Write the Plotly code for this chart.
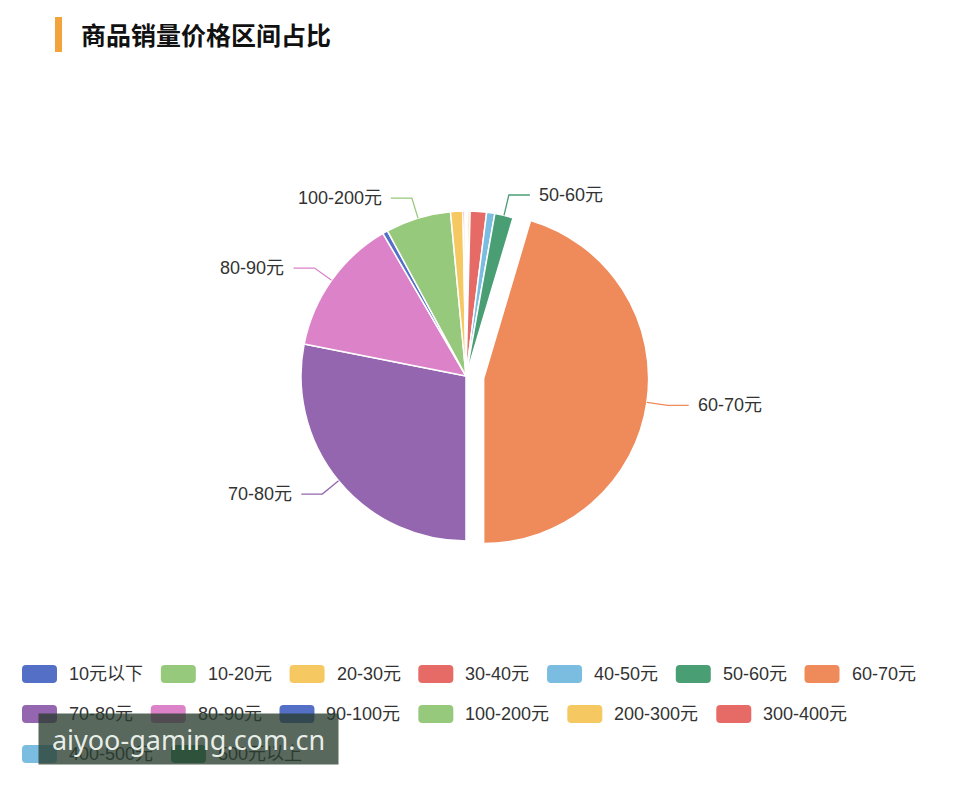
import math
import plotly.graph_objects as go

# ---------------- data ----------------
title_text = "商品销量价格区间占比"
categories = ["10元以下", "10-20元", "20-30元", "30-40元", "40-50元", "50-60元", "60-70元",
              "70-80元", "80-90元", "90-100元", "100-200元", "200-300元", "300-400元",
              "400-500元", "500元以上"]
shares = [0.1, 0.1, 0.2, 1.6, 0.8, 1.8, 45.4, 28.1, 13.5, 0.5, 6.4, 1.2, 0.2, 0.05, 0.05]
colors = ["#5470c6", "#97c97c", "#f5c862", "#e66a66", "#7bbde0", "#4a9e74", "#ef8a5b",
          "#9566b0", "#dc82c8", "#5470c6", "#97c97c", "#f5c862", "#e66a66", "#7bbde0", "#3f9a6c"]
labeled = ["50-60元", "60-70元", "70-80元", "80-90元", "100-200元"]
selected = "60-70元"
watermark = "aiyoo-gaming.com.cn"

# ---------------- layout constants (pixels of the 974x800 window) ----------------
VW, VH = 974, 800
OFF = 8                      # default page body margin
W, H = VW - 2 * OFF, VH - 2 * OFF
CX, CY, R = 466, 376, 165
PULL = 0.108
FONT = "Liberation Sans, Noto Sans CJK SC, sans-serif"
TXT = "#333333"


def px(x):
    return (x - OFF) / W


def py(y):
    return 1 - (y - OFF) / H


pulls = [PULL if c == selected else 0 for c in categories]
rmax = R * (1 + PULL)

fig = go.Figure()
fig.add_trace(go.Pie(
    labels=categories, values=shares, sort=False, direction="clockwise", rotation=0,
    pull=pulls, textinfo="none", hoverinfo="label+percent",
    marker=dict(colors=colors, line=dict(color="white", width=1.5)),
    domain=dict(x=[px(CX - rmax), px(CX + rmax)], y=[py(CY + rmax), py(CY - rmax)]),
    showlegend=False,
))

shapes = []
annotations = []

# title
shapes.append(dict(type="rect", xref="paper", yref="paper", x0=px(55), x1=px(62), y0=py(52), y1=py(17),
                   fillcolor="#f3a33c", line=dict(width=0)))
annotations.append(dict(text="<b>" + title_text + "</b>", x=px(79), y=py(34), xref="paper", yref="paper",
                        xanchor="left", yanchor="middle", showarrow=False,
                        font=dict(size=25, color="#111111", family="Noto Sans CJK SC, sans-serif")))

# pie labels with leader lines
total = sum(shares)
cum = 0.0
L1, L2, GAP = 21, 21, 7
for cat, val, col, pl in zip(categories, shares, colors, pulls):
    a0 = cum / total * 2 * math.pi
    cum += val
    a1 = cum / total * 2 * math.pi
    if cat not in labeled:
        continue
    mid = (a0 + a1) / 2
    dx, dy = math.sin(mid), -math.cos(mid)
    ox, oy = CX + pl * R * dx, CY + pl * R * dy
    ex, ey = ox + R * dx, oy + R * dy
    bx, by = ex + L1 * dx, ey + L1 * dy
    side = 1 if dx >= 0 else -1
    hx = bx + side * L2
    path = "M {},{} L {},{} L {},{}".format(px(ex), py(ey), px(bx), py(by), px(hx), py(by))
    shapes.append(dict(type="path", xref="paper", yref="paper", path=path,
                       line=dict(color=col, width=1.3)))
    annotations.append(dict(text=cat, x=px(hx + side * GAP), y=py(by), xref="paper", yref="paper",
                            xanchor="left" if side > 0 else "right", yanchor="middle", showarrow=False,
                            font=dict(size=18, color=TXT, family=FONT)))


# legend (ECharts-like, rounded icons)
def text_w(s, em=18.2):
    w = 0
    for ch in s:
        if ch.isdigit():
            w += 0.556
        elif ch == "-":
            w += 0.333
        elif ord(ch) > 0x2E80:
            w += 1.0
        else:
            w += 0.5
    return w * em


IW, IH, IR, TG, IG = 35, 18, 4, 10, 19
LX0, LY0, ROWH = 22, 674, 40
x, y = LX0, LY0
for cat, col in zip(categories, colors):
    tw = text_w(cat)
    if x + IW + TG + tw > VW - LX0 and x > LX0:
        x = LX0
        y += ROWH
    x0, x1, y0, y1 = x, x + IW, y - IH / 2, y + IH / 2
    path = ("M {a},{b} L {c},{b} Q {x1},{b} {x1},{d} L {x1},{e} Q {x1},{y1} {c},{y1} "
            "L {a},{y1} Q {x0},{y1} {x0},{e} L {x0},{d} Q {x0},{b} {a},{b} Z").format(
        a=px(x0 + IR), b=py(y0), c=px(x1 - IR), d=py(y0 + IR), e=py(y1 - IR),
        x0=px(x0), x1=px(x1), y1=py(y1))
    shapes.append(dict(type="path", xref="paper", yref="paper", path=path, fillcolor=col,
                       line=dict(width=0)))
    annotations.append(dict(text=cat, x=px(x1 + TG), y=py(y), xref="paper", yref="paper",
                            xanchor="left", yanchor="middle", showarrow=False,
                            font=dict(size=18, color=TXT, family=FONT)))
    x = x1 + TG + tw + IG

# watermark overlay
annotations.append(dict(text=watermark, x=px(38), y=py(713), xref="paper", yref="paper",
                        xanchor="left", yanchor="top", showarrow=False, width=299, height=50,
                        borderpad=0, align="center", valign="middle",
                        bgcolor="rgba(42,62,48,0.78)",
                        font=dict(size=27, color="rgba(236,242,236,0.97)", family="Noto Sans, sans-serif")))

fig.update_layout(width=W, height=H, margin=dict(l=0, r=0, t=0, b=0),
                  paper_bgcolor="white", plot_bgcolor="white",
                  shapes=shapes, annotations=annotations, showlegend=False)

fig.write_html("out.html")
